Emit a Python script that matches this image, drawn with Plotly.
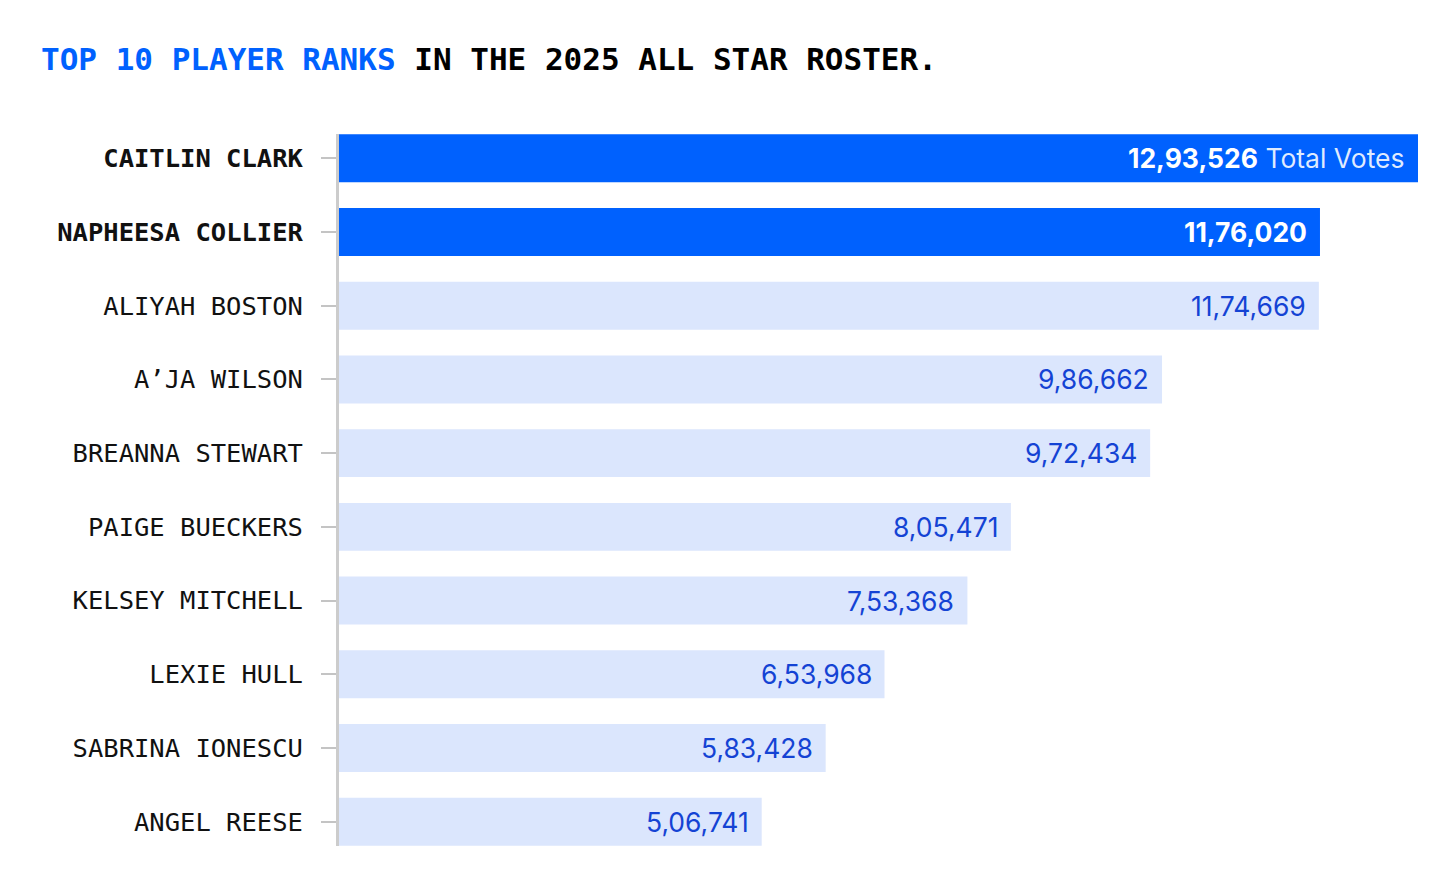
import plotly.graph_objects as go

players = ["CAITLIN CLARK", "NAPHEESA COLLIER", "ALIYAH BOSTON", "A’JA WILSON",
           "BREANNA STEWART", "PAIGE BUECKERS", "KELSEY MITCHELL", "LEXIE HULL",
           "SABRINA IONESCU", "ANGEL REESE"]
votes = [1293526, 1176020, 1174669, 986662, 972434, 805471, 753368, 653968, 583428, 506741]
highlight = [True, True, False, False, False, False, False, False, False, False]

BLUE = "#0061fe"
LIGHT = "#dbe6fd"
TEXT_BLUE = "#1443d4"


def indian(n):
    s = str(n)
    if len(s) <= 3:
        return s
    last3 = s[-3:]
    rest = s[:-3]
    groups = []
    while len(rest) > 2:
        groups.insert(0, rest[-2:])
        rest = rest[:-2]
    if rest:
        groups.insert(0, rest)
    return ",".join(groups) + "," + last3


fig = go.Figure()
fig.add_trace(go.Bar(
    x=votes, y=players, orientation="h",
    marker=dict(color=[BLUE if h else LIGHT for h in highlight], line=dict(width=0)),
    width=0.65, hoverinfo="skip",
))

for i, (p, v, h) in enumerate(zip(players, votes, highlight)):
    if i == 0:
        txt = "<b>" + indian(v) + "</b><span style='color:rgba(255,255,255,0.88)'> Total Votes</span>"
        col = "white"
    elif h:
        txt = "<b>" + indian(v) + "</b>"
        col = "white"
    else:
        txt = indian(v)
        col = TEXT_BLUE
    fig.add_annotation(x=v, y=p, text=txt, showarrow=False, xanchor="right",
                       yanchor="middle", xshift=-11,
                       font=dict(family="Inter", size=26.5, color=col))

ticktext = ["<b>" + p + "</b>" if h else p for p, h in zip(players, highlight)]

fig.update_layout(
    width=1456, height=887,
    margin=dict(l=331, r=46, t=126, b=49),
    paper_bgcolor="white", plot_bgcolor="white",
    showlegend=False,
    title=dict(
        text="<span style='color:" + BLUE + "'>TOP 10 PLAYER RANKS</span> IN THE 2025 ALL STAR ROSTER.",
        x=33 / 1456, xref="container", xanchor="left",
        y=1 - 51 / 887, yref="container", yanchor="middle",
        font=dict(family="DejaVu Sans Mono", size=31, color="#000000", weight="bold"),
    ),
    xaxis=dict(range=[0, max(votes)], visible=False, fixedrange=True),
    yaxis=dict(
        range=[9.33, -0.33], tickvals=players, ticktext=ticktext,
        showline=True, linecolor="#cccccc", linewidth=3,
        ticks="outside", ticklen=15, tickwidth=2, tickcolor="#c4c4c4",
        ticklabelstandoff=13, showgrid=False, zeroline=False,
        tickfont=dict(family="DejaVu Sans Mono", size=25.5, color="#111111"),
    ),
)

fig.write_html("out.html")
